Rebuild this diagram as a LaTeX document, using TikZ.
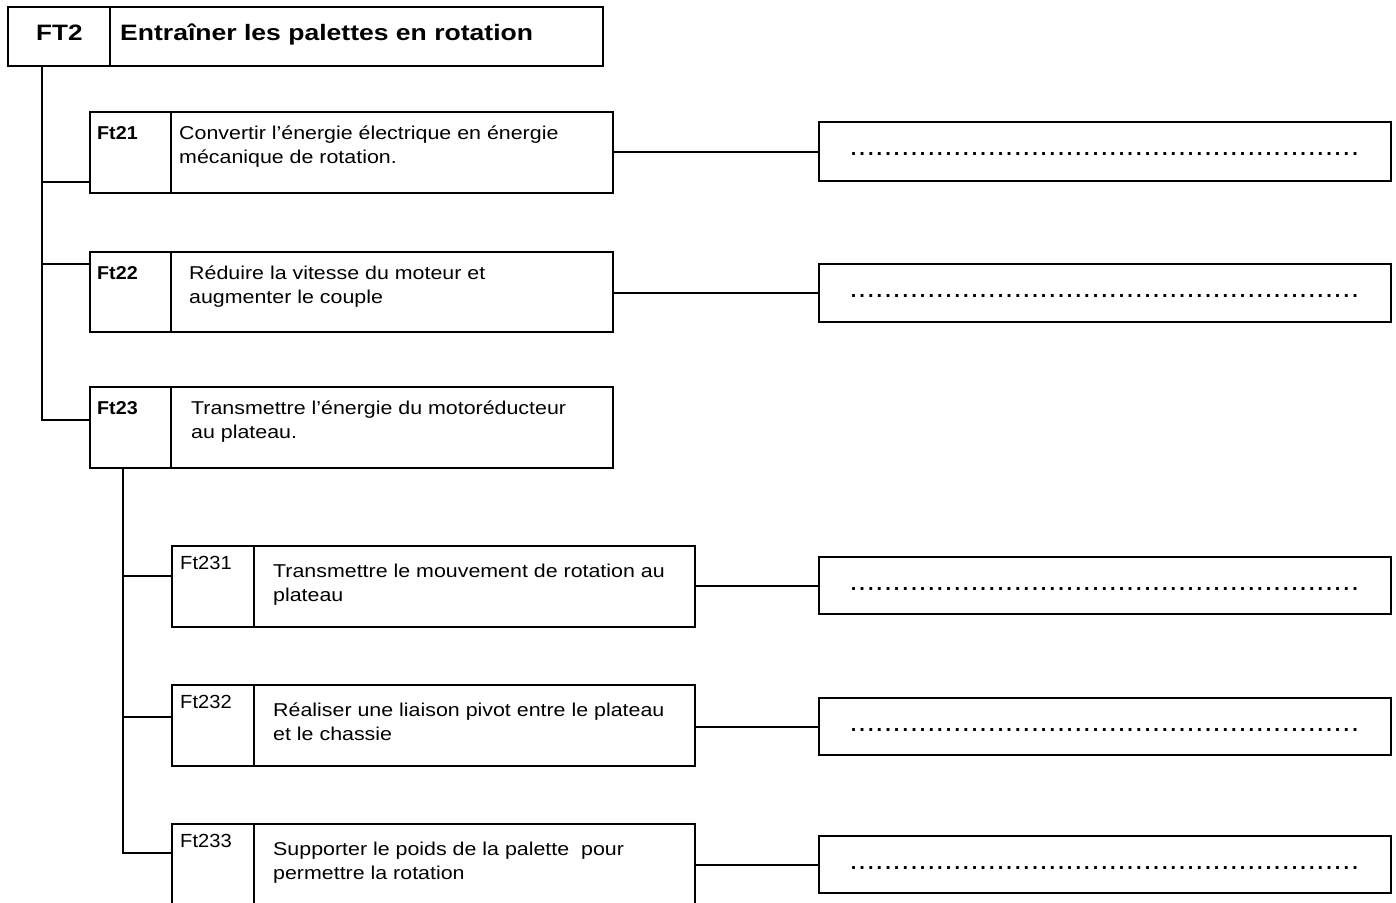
\documentclass[tikz,border=0pt]{standalone}
\usepackage{fontspec}
\setmainfont{Liberation Sans}
\newfontfamily\descfont{Liberation Sans}[FakeStretch=1.15]
\newfontfamily\labfont{Liberation Sans}[FakeStretch=1.06]
\newfontfamily\ttlfont{Liberation Sans}[FakeStretch=1.17]
\newfontfamily\ttlwfont{Liberation Sans}[FakeStretch=1.19]
\begin{document}
\begin{tikzpicture}[x=1pt,y=-1pt,
  box/.style={draw, line width=1.9pt, rectangle, minimum width=#1, anchor=north west, inner sep=0pt},
  wire/.style={line width=1.9pt},
  lab/.style={anchor=base west, inner sep=0pt, font=\labfont\fontsize{18.6}{24}\selectfont\bfseries},
  sublab/.style={anchor=base west, inner sep=0pt, font=\labfont\fontsize{19}{24}\selectfont},
  desc/.style={anchor=base west, inner sep=0pt, align=left, font=\descfont\fontsize{18.6}{24}\selectfont},
  dots/.style={anchor=base west, inner sep=0pt, font=\fontsize{20}{24}\selectfont\bfseries}
]
\clip (0,0) rectangle (1396,902);
\fill[white] (0,0) rectangle (1396,902);
\newcommand\dotrow{\hbox to 510pt{\xleaders\hbox to 8.6pt{\hss.\hss}\hfill}}
% FT2
\node[box=595pt, minimum height=59pt] (ft2) at (7,6) {};
\draw[wire] (110,6) -- (110,65);
\node[anchor=base west, inner sep=0pt, font=\ttlfont\fontsize{22.3}{28}\selectfont\bfseries] (ft2l) at (36,40) {FT2};
\node[anchor=base west, inner sep=0pt, font=\ttlwfont\fontsize{22.3}{28}\selectfont\bfseries] (ft2t) at (120,40) {Entraîner les palettes en rotation};
\coordinate (tA) at (42,65);
% Ft21
\node[box=523pt, minimum height=81pt] (ft21) at (89,111) {};
\draw[wire] (171,111) -- (171,192);
\node[lab] (ft21l) at (97,139) {Ft21};
\node[desc] (ft21d) at (179,163) {Convertir l’énergie électrique en énergie\\mécanique de rotation.};
\node[box=572pt, minimum height=59pt] (a21) at (818,121) {};
\node[dots] (d21) at (849,155.5) {\dotrow};
% Ft22
\node[box=523pt, minimum height=80pt] (ft22) at (89,251) {};
\draw[wire] (171,251) -- (171,331);
\node[lab] (ft22l) at (97,279) {Ft22};
\node[desc] (ft22d) at (189,303) {Réduire la vitesse du moteur et\\augmenter le couple};
\node[box=572pt, minimum height=58pt] (a22) at (818,263) {};
\node[dots] (d22) at (849,297.5) {\dotrow};
% Ft23
\node[box=523pt, minimum height=81pt] (ft23) at (89,386) {};
\draw[wire] (171,386) -- (171,467);
\node[lab] (ft23l) at (97,414) {Ft23};
\node[desc] (ft23d) at (191,438) {Transmettre l’énergie du motoréducteur\\au plateau.};
\coordinate (tB) at (123,467);
% Ft231
\node[box=523pt, minimum height=81pt] (ft231) at (171,545) {};
\draw[wire] (254,545) -- (254,626);
\node[sublab] (ft231l) at (180,569) {Ft231};
\node[desc] (ft231d) at (273,601) {Transmettre le mouvement de rotation au\\plateau};
\node[box=572pt, minimum height=57pt] (a231) at (818,556) {};
\node[dots] (d231) at (849,590.5) {\dotrow};
% Ft232
\node[box=523pt, minimum height=81pt] (ft232) at (171,684) {};
\draw[wire] (254,684) -- (254,765);
\node[sublab] (ft232l) at (180,708) {Ft232};
\node[desc] (ft232d) at (273,740) {Réaliser une liaison pivot entre le plateau\\et le chassie};
\node[box=572pt, minimum height=57pt] (a232) at (818,697) {};
\node[dots] (d232) at (849,731.5) {\dotrow};
% Ft233
\node[box=523pt, minimum height=84pt] (ft233) at (171,823) {};
\draw[wire] (254,823) -- (254,907);
\node[sublab] (ft233l) at (180,847) {Ft233};
\node[desc] (ft233d) at (273,879) {Supporter le poids de la palette\ \ pour\\permettre la rotation};
\node[box=572pt, minimum height=57pt] (a233) at (818,835) {};
\node[dots] (d233) at (849,869.5) {\dotrow};
% trunk connectors
\draw[wire] (tA) |- ([yshift=12pt]ft21.south west);
\draw[wire] (tA) |- ([yshift=-13pt]ft22.north west);
\draw[wire] (tA) |- ([yshift=49pt]ft23.south west);
\draw[wire] (tB) |- ([yshift=-31pt]ft231.north west);
\draw[wire] (tB) |- ([yshift=-33pt]ft232.north west);
\draw[wire] (tB) |- ([yshift=-30pt]ft233.north west);
% right connectors
\draw[wire] ([yshift=-41pt]ft21.north east) -- ([yshift=-41pt]ft21.north east -| a21.west);
\draw[wire] ([yshift=-42pt]ft22.north east) -- ([yshift=-42pt]ft22.north east -| a22.west);
\draw[wire] ([yshift=-41pt]ft231.north east) -- ([yshift=-41pt]ft231.north east -| a231.west);
\draw[wire] ([yshift=-43pt]ft232.north east) -- ([yshift=-43pt]ft232.north east -| a232.west);
\draw[wire] ([yshift=-42pt]ft233.north east) -- ([yshift=-42pt]ft233.north east -| a233.west);
\end{tikzpicture}
\end{document}
